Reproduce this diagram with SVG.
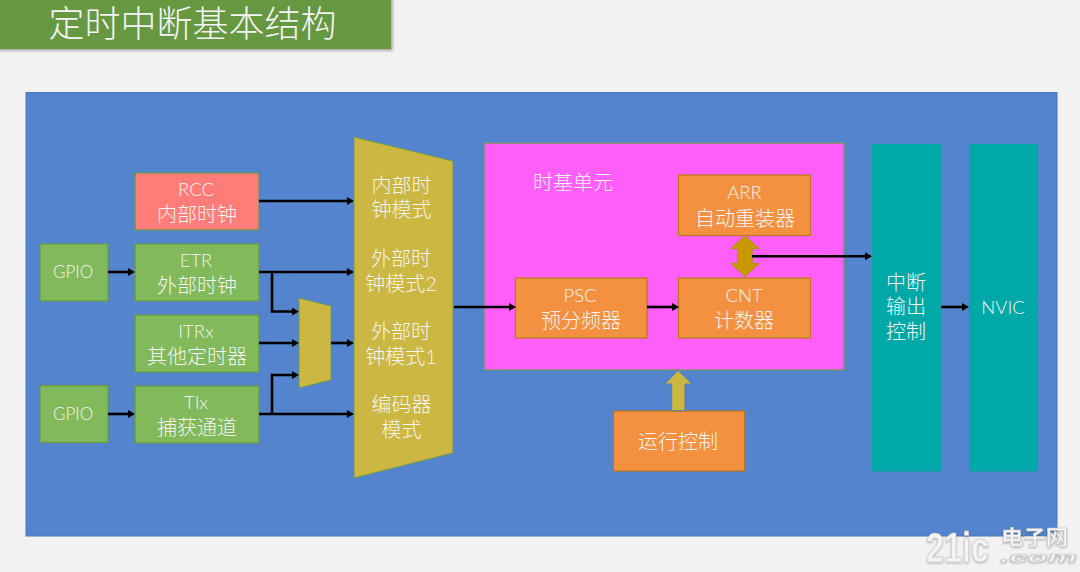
<svg xmlns="http://www.w3.org/2000/svg" width="1080" height="572" viewBox="0 0 1080 572">
<style>
text{font-family:Lato,"Noto Sans CJK SC",sans-serif;font-weight:300;font-size:20px;fill:#f4f4f4;text-anchor:middle}
text.l{font-size:18.5px}
.g{fill:#82b95a;stroke:#659a45;stroke-width:1.2}
.y{fill:#cbb741;stroke:#6f9a52;stroke-width:1}
.o{fill:#f39140;stroke:#b8791e;stroke-width:1.2}
.t{fill:#00a9a8}
.c{fill:none;stroke:#000;stroke-width:2.600;marker-end:url(#a)}
text.w{font-family:"Liberation Sans","Noto Sans CJK SC",sans-serif;font-weight:700;fill:#f4f4f4;stroke:#c4c4c4;stroke-width:.6;text-anchor:start}
</style>
<defs>
<marker id="a" markerUnits="userSpaceOnUse" markerWidth="7" markerHeight="8" refX="3" refY="4" orient="auto"><path d="M0 0L7 4L0 8Z" fill="#000"/></marker>
<filter id="s" x="-5%" y="-20%" width="110%" height="140%"><feDropShadow dx="1.500" dy="1.500" stdDeviation="1.500" flood-color="#000" flood-opacity=".35"/></filter>
<filter id="ws" x="-10%" y="-10%" width="120%" height="130%"><feDropShadow dx="0" dy="1" stdDeviation="1" flood-color="#000" flood-opacity=".3"/></filter>
</defs>
<rect width="1080" height="572" fill="#f2f2f2"/>
<g id="title"><rect x="-5" y="-5" width="396" height="54" fill="#669843" filter="url(#s)"/><text x="192.500" y="37" style="font-size:36px">定时中断基本结构</text></g>
<g id="panel"><rect x="26" y="92.500" width="1031" height="443.500" fill="#5484cd" stroke="#4a77b5" stroke-width="1"/></g>
<g id="rcc"><rect x="135" y="173" width="124" height="57" fill="#ff7c78" stroke="#659a45" stroke-width="1.200"/><text class="l" x="196" y="196">RCC</text><text x="197" y="222">内部时钟</text></g>
<g id="gpio1"><rect class="g" x="40" y="244" width="68" height="57"/><text class="l" style="font-size:17px" x="73" y="278">GPIO</text></g>
<g id="etr"><rect class="g" x="135" y="244" width="124" height="57"/><text class="l" x="196" y="267">ETR</text><text x="197" y="293">外部时钟</text></g>
<g id="itrx"><rect class="g" x="135" y="315" width="124" height="57"/><text class="l" x="196" y="338">ITRx</text><text x="197" y="364">其他定时器</text></g>
<g id="gpio2"><rect class="g" x="40" y="385.500" width="68" height="57"/><text class="l" style="font-size:17px" x="73" y="420">GPIO</text></g>
<g id="tix"><rect class="g" x="135" y="386" width="124" height="57"/><text class="l" x="196" y="409">TIx</text><text x="197" y="435">捕获通道</text></g>
<g id="mux"><path class="y" d="M299 298L331 306V380L299 388Z"/></g>
<g id="mode"><path class="y" d="M354 137L453 161V453L354 478Z" stroke="#4f7fb0"/>
<text x="401.500" y="192.500">内部时</text><text x="401.500" y="217">钟模式</text>
<text x="401" y="266">外部时</text><text x="401" y="291">钟模式2</text>
<text x="401" y="339">外部时</text><text x="401" y="364">钟模式1</text>
<text x="401.500" y="412">编码器</text><text x="401.500" y="437">模式</text></g>
<g id="timebase"><rect x="484" y="143" width="360" height="227" fill="#ff5ff8" stroke="#6f9a52" stroke-width="1.200"/><text x="573" y="190">时基单元</text></g>
<g id="arr"><rect class="o" x="678.500" y="175" width="132" height="60.500"/><text class="l" x="744.500" y="199">ARR</text><text x="745" y="226">自动重装器</text></g>
<g id="psc"><rect class="o" x="515.500" y="278" width="131.500" height="60"/><text class="l" x="580" y="302">PSC</text><text x="581" y="328">预分频器</text></g>
<g id="cnt"><rect class="o" x="678.500" y="278" width="132" height="60"/><text class="l" x="744" y="302">CNT</text><text x="744" y="328">计数器</text></g>
<g id="run"><rect class="o" x="613.500" y="411" width="131" height="60"/><text x="678" y="449">运行控制</text></g>
<g id="irq"><rect class="t" x="872" y="144" width="69" height="327.500"/><text x="906" y="290">中断</text><text x="906" y="314">输出</text><text x="906" y="339">控制</text></g>
<g id="nvic"><rect class="t" x="969" y="144" width="69" height="327.500"/><text class="l" x="1003" y="314">NVIC</text></g>
<g id="connectors">
<path class="c" d="M259 201H350"/>
<path class="c" d="M108 272H131"/>
<path class="c" d="M259 272H350"/>
<path class="c" d="M272 272V311.500H295"/>
<path class="c" d="M259 343H295"/>
<path class="c" d="M331 343H350"/>
<path class="c" d="M108 414H131"/>
<path class="c" d="M259 414H350"/>
<path class="c" d="M272 414V375H295"/>
<path class="c" d="M454 307H512"/>
<path class="c" d="M647 307H675"/>
<path class="c" d="M941 307H965"/>
<path d="M678 370.500L692.300 384H685V410.700H671.700V384H664.700Z" fill="#cbb741" stroke="#4f7fb0" stroke-width="1"/>
<path d="M745 235.500L759.300 248.700H752.300V263.300H759.300L745 276.700L730.700 263.300H737.700V248.700H730.700Z" fill="#c99a00" stroke="#a8902a" stroke-width="1"/>
<path class="c" d="M752 256.300H868"/>
</g>
<g id="watermark" filter="url(#ws)">
<text class="w" transform="translate(926 562) scale(.77 1)" style="font-size:42px">21ic</text>
<text class="w" transform="translate(1001 545) scale(1.12 1)" style="font-size:20px">电子网</text>
<text class="w" transform="translate(1000 562) scale(2.2 1)" style="font-size:15px;font-style:italic">.com</text>
</g>
</svg>
